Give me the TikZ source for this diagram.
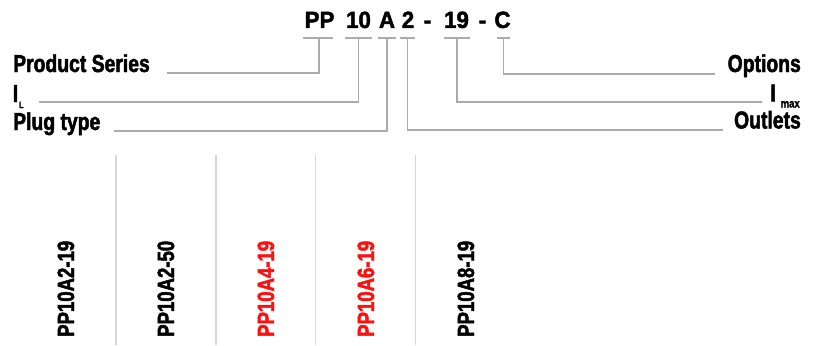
\documentclass[tikz,border=0pt]{standalone}
\usepackage{fontspec}
\newfontfamily\cond{Liberation Sans}[FakeStretch=0.79, BoldFeatures={FakeBold=2}]
\newfontfamily\wide{Liberation Sans}[FakeStretch=0.95, BoldFeatures={FakeBold=2}]
\definecolor{conngray}{HTML}{ABABAB}
\definecolor{sepgray}{HTML}{D6D6D6}
\definecolor{redtxt}{HTML}{FF1010}
\tikzset{
  lbl/.style={inner sep=0pt, text height=17.5pt, text depth=4pt, font=\cond\bfseries\fontsize{24.5}{24.5}\selectfont},
  sublbl/.style={inner sep=0pt, text height=6pt, text depth=0pt, anchor=base west, font=\cond\bfseries\fontsize{#1}{#1}\selectfont},
  codeseg/.style={inner sep=0pt, anchor=base, font=\wide\bfseries\fontsize{23.5}{23.5}\selectfont},
  vlbl/.style={inner sep=0pt, rotate=90, anchor=base west, font=\cond\bfseries\fontsize{23.5}{23.5}\selectfont},
  conn/.style={draw=conngray, line width=1.2pt},
  sep/.style={draw=sepgray, line width=1.3pt},
}
\begin{document}
\begin{tikzpicture}[x=1pt,y=-1pt]
\useasboundingbox (0,0) rectangle (818,345);
% code
\node[codeseg] (cPP) at (319.5,28) {PP};
\node[codeseg] (c10) at (358.5,28) {10};
\node[codeseg] (cA) at (387,28) {A};
\node[codeseg] (c2) at (408,28) {2};
\node[codeseg] (d1) at (427.5,28) {-};
\node[codeseg] (c19) at (456.5,28) {19};
\node[codeseg] (d2) at (482.5,28) {-};
\node[codeseg] (cC) at (502.5,28) {C};
% ticks
\coordinate (tPP) at (319,38);
\coordinate (t10) at (358.5,38);
\coordinate (tA) at (387,38);
\coordinate (t2) at (407.5,38);
\coordinate (t19) at (457,38);
\coordinate (tC) at (503.5,38);
\draw[conn] (303,38) -- (333,38);
\draw[conn] (345,38) -- (372,38);
\draw[conn] (378,38) -- (396,38);
\draw[conn] (400,38) -- (415,38);
\draw[conn] (444,38) -- (470,38);
\draw[conn] (497,38) -- (510,38);
% labels
\node[lbl, anchor=base west] (ps) at (13,72) {Product Series};
\node[lbl, anchor=base west] (il) at (12.5,102) {I};
\node[sublbl=9] (ilsub) at (19,108) {L};
\node[lbl, anchor=base west] (pt) at (13,130) {Plug type};
\node[lbl, anchor=base east] (op) at (801,72) {Options};
\node[lbl, anchor=base east] (im) at (776,101.5) {I};
\node[sublbl=12] (imsub) at (780.5,107.5) {max};
\node[lbl, anchor=base east] (ou) at (801,128.5) {Outlets};
% line ends
\coordinate (ePS) at (167,73);
\coordinate (eIL) at (39,102);
\coordinate (ePT) at (114,131);
\coordinate (eOP) at (715,74);
\coordinate (eIM) at (762,102);
\coordinate (eOU) at (723,130);
\draw[conn] (tPP) |- (ePS);
\draw[conn] (t10) |- (eIL);
\draw[conn] (tA) |- (ePT);
\draw[conn] (tC) |- (eOP);
\draw[conn] (t19) |- (eIM);
\draw[conn] (t2) |- (eOU);
% separators
\foreach \x/\n in {116/s1,216/s2,315.5/s3,415.5/s4}{
  \coordinate (\n a) at (\x,155);
  \coordinate (\n b) at (\x,345);
  \draw[sep] (\n a) -- (\n b);
}
% rotated labels
\node[vlbl] (m1) at (74,337) {PP10A2-19};
\node[vlbl] (m2) at (174,337) {PP10A2-50};
\node[vlbl, text=redtxt] (m3) at (274,337) {PP10A4-19};
\node[vlbl, text=redtxt] (m4) at (374,337) {PP10A6-19};
\node[vlbl] (m5) at (474,337) {PP10A8-19};
\end{tikzpicture}
\end{document}
